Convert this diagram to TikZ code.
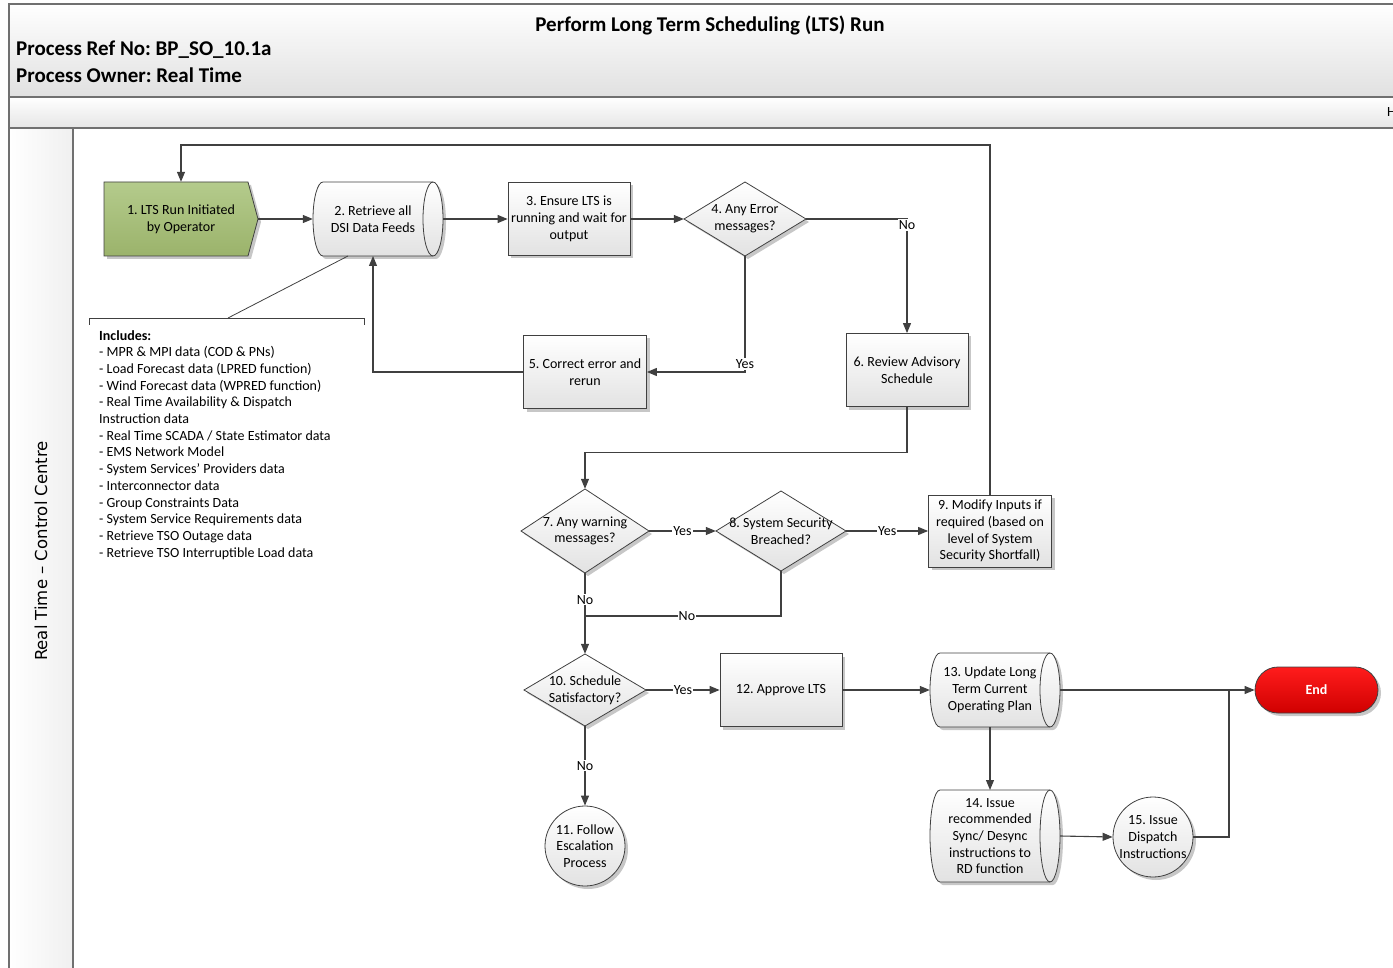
\documentclass[tikz,border=0pt]{standalone}
\usepackage{fontspec}
\setmainfont{Carlito}
\newfontfamily\lanefont{DejaVu Sans}
\usetikzlibrary{arrows.meta,shadows,calc}
\definecolor{ln}{HTML}{404040}
\definecolor{frm}{HTML}{707070}
\definecolor{grn1}{HTML}{B4CB8C}
\definecolor{grn2}{HTML}{9BB36B}
\definecolor{red1}{HTML}{FF1C1C}
\definecolor{red2}{HTML}{D00000}
\definecolor{boxb}{HTML}{E2E2E2}
\frenchspacing
\newcommand\cylshape[7]{%
  \pgfmathsetmacro\cW{#4/2}\pgfmathsetmacro\cH{#5/2}\pgfmathsetmacro\cA{#6}%
  \begin{scope}[shift={(#2,#3)}]
    \path[shp] (-\cW+\cA,-\cH) -- (\cW-\cA,-\cH)
      .. controls (\cW-0.448*\cA,-\cH) and (\cW,-0.552*\cH) .. (\cW,0)
      .. controls (\cW,0.552*\cH) and (\cW-0.448*\cA,\cH) .. (\cW-\cA,\cH)
      -- (-\cW+\cA,\cH)
      .. controls (-\cW+0.448*\cA,\cH) and (-\cW,0.552*\cH) .. (-\cW,0)
      .. controls (-\cW,-0.552*\cH) and (-\cW+0.448*\cA,-\cH) .. cycle;
    \draw[draw=ln, line width=0.8pt] (\cW-\cA,-\cH)
      .. controls (\cW-1.552*\cA,-\cH) and (\cW-2*\cA,-0.552*\cH) .. (\cW-2*\cA,0)
      .. controls (\cW-2*\cA,0.552*\cH) and (\cW-1.552*\cA,\cH) .. (\cW-\cA,\cH);
  \end{scope}
  \node[minimum width=#4pt, minimum height=#5pt, inner sep=0pt] (#1) at (#2,#3) {};
  \node[align=center, inner sep=0pt] (#1txt) at (#2-5,#3) {#7};
  \coordinate (#1t) at (#2-5,#3-#5/2);
  \coordinate (#1b) at (#2-5,#3+#5/2);
}
\newcommand\diam[6]{%
  \path[shp] (#2-#4/2,#3) -- (#2,#3-#5/2) -- (#2+#4/2,#3) -- (#2,#3+#5/2) -- cycle;
  \node[minimum width=#4pt, minimum height=#5pt, inner sep=0pt, align=center] (#1) at (#2,#3) {#6};
}
\begin{document}
\begin{tikzpicture}[x=1pt,y=-1pt,
  font=\fontsize{14}{16.7}\selectfont,
  arr/.style={draw=ln, line width=1.1pt, -{Triangle[length=10pt,width=8pt]}},
  cn/.style={draw=ln, line width=1.1pt},
  shp/.style={draw=ln, line width=0.8pt, top color=white, bottom color=boxb,
    drop shadow={shadow xshift=3pt, shadow yshift=-3pt, fill=black!22, opacity=1}},
  lbl/.style={fill=white, inner sep=1pt},
  rbox/.style={shp, rectangle, align=center, inner xsep=2pt, inner ysep=0pt}]
\useasboundingbox (0,0) rectangle (1393,968);
% frame
\fill[top color=white, bottom color=black!12] (9,4) rectangle (1400,97);
\fill[top color=white, bottom color=black!10] (9,97) rectangle (1400,128);
\fill[left color=white, right color=black!6] (9,128) rectangle (73,980);
\draw[frm, line width=1.2pt] (9,980) -- (9,4) -- (1400,4);
\draw[frm, line width=1.6pt] (9,97) -- (1400,97);
\draw[frm, line width=1.2pt] (9,128) -- (1400,128);
\draw[frm, line width=1.2pt] (73,128) -- (73,980);
\node[font=\fontsize{21}{24}\selectfont\bfseries] (title) at (710,25) {Perform Long Term Scheduling (LTS) Run};
\node[anchor=west, inner sep=0pt, font=\fontsize{21}{24}\selectfont\bfseries] (pref) at (16,50) {Process Ref No: BP\_SO\_10.1a};
\node[anchor=west, inner sep=0pt, font=\fontsize{21}{24}\selectfont\bfseries] (pown) at (16,75) {Process Owner: Real Time};
\node[anchor=west, inner sep=0pt] (hh) at (1387,112) {H};
\node[rotate=90, font=\lanefont\fontsize{16.5}{19}\selectfont] (lane) at (41,551) {Real Time – Control Centre};

% nodes
\path[shp, top color=grn1, bottom color=grn2] (104,182) -- (248,182) -- (258,219) -- (248,256) -- (104,256) -- cycle;
\node[minimum width=154pt, minimum height=74pt, inner sep=0pt, align=center] (n1) at (181,219) {1. LTS Run Initiated\\by Operator};
\cylshape{n2}{378}{219}{130}{74}{10}{2. Retrieve all\\DSI Data Feeds}
\node[rbox, minimum width=122pt, minimum height=73pt] (n3) at (569,219) {3. Ensure LTS is\\running and wait for\\output};
\diam{n4}{745}{219}{122}{74}{4. Any Error\\messages?}
\node[rbox, minimum width=123pt, minimum height=73pt] (n5) at (585,372) {5. Correct error and\\rerun};
\node[rbox, minimum width=122pt, minimum height=73pt] (n6) at (907,370) {6. Review Advisory\\Schedule};
\diam{n7}{585}{531}{128}{84}{7. Any warning\\messages?}
\diam{n8}{781}{531}{130}{80}{8. System Security\\Breached?}
\node[rbox, minimum width=123pt, minimum height=72pt] (n9) at (990,531) {9. Modify Inputs if\\required (based on\\level of System\\Security Shortfall)};
\diam{n10}{585}{690}{122}{72}{10. Schedule\\Satisfactory?}
\node[shp, circle, minimum size=80pt, inner sep=0pt, align=center] (n11) at (585,846) {11. Follow\\Escalation\\Process};
\node[rbox, minimum width=122pt, minimum height=73pt] (n12) at (781,690) {12. Approve LTS};
\cylshape{n13}{995}{690}{130}{74}{10}{13. Update Long\\Term Current\\Operating Plan}
\cylshape{n14}{995}{836}{130}{92}{10}{14. Issue\\recommended\\Sync/ Desync\\instructions to\\RD function}
\node[shp, circle, minimum size=80pt, inner sep=0pt, align=center] (n15) at (1153,837) {15. Issue\\Dispatch\\Instructions};
\node[draw=ln, line width=0.8pt, top color=red1, bottom color=red2, rounded corners=23pt,
  minimum width=123pt, minimum height=46pt, text=white, font=\fontsize{14}{16}\selectfont\bfseries,
  drop shadow={shadow xshift=3pt, shadow yshift=-3pt, fill=black!22, opacity=1}] (end) at (1316.5,690) {End};

% includes annotation
\node[anchor=north west, align=left, inner sep=0pt] (inc) at (99,330) {\textbf{Includes:}\\
- MPR \& MPI data (COD \& PNs)\\
- Load Forecast data (LPRED function)\\
- Wind Forecast data (WPRED function)\\
- Real Time Availability \& Dispatch\\
Instruction data\\
- Real Time SCADA / State Estimator data\\
- EMS Network Model\\
- System Services’ Providers data\\
- Interconnector data\\
- Group Constraints Data\\
- System Service Requirements data\\
- Retrieve TSO Outage data\\
- Retrieve TSO Interruptible Load data};
\coordinate (brk) at (228,318);
\draw[draw=ln, line width=0.8pt] ($(n2b)+(-25,0)$) -- (brk);
\draw[draw=ln, line width=0.8pt] (89,325) -- (89,318) -- (364,318) -- (364,325);

% connectors
\coordinate (toprow) at (0,145);
\draw[arr] (n9.north) -- (n9.north |- toprow) -| (n1.north);
\draw[arr] (n1.east) -- (n2.west);
\draw[arr] (n2.east) -- (n3.west);
\draw[arr] (n3.east) -- (n4.west);
\draw[arr] (n4.east) -| node[lbl, pos=0.5, yshift=-6pt]{No} (n6.north);
\draw[arr] (n4.south) |- node[lbl, pos=0.5, yshift=8pt]{Yes} (n5.east);
\draw[arr] (n5.west) -| (n2b);
\draw[arr] (n6.south) -- ++(0,46) -| (n7.north);
\draw[arr] (n7.east) -- node[lbl]{Yes} (n8.west);
\draw[arr] (n8.east) -- node[lbl]{Yes} (n9.west);
\draw[arr] (n7.south) -- node[lbl, pos=0.33]{No} (n10.north);
\coordinate (j8) at (585,616);
\draw[cn] (n8.south) |- node[lbl, pos=0.74]{No} (j8);
\draw[arr] (n10.east) -- node[lbl]{Yes} (n12.west);
\draw[arr] (n10.south) -- node[lbl]{No} (n11.north);
\draw[arr] (n12.east) -- (n13.west);
\draw[arr] (n13.east) -- (end.west);
\draw[arr] (n13b) -- (n14t);
\draw[arr] (n14.east) -- (n15.west);
\coordinate (j15) at (1229,690);
\draw[cn] (n15.east) -| (j15);
\end{tikzpicture}
\end{document}
